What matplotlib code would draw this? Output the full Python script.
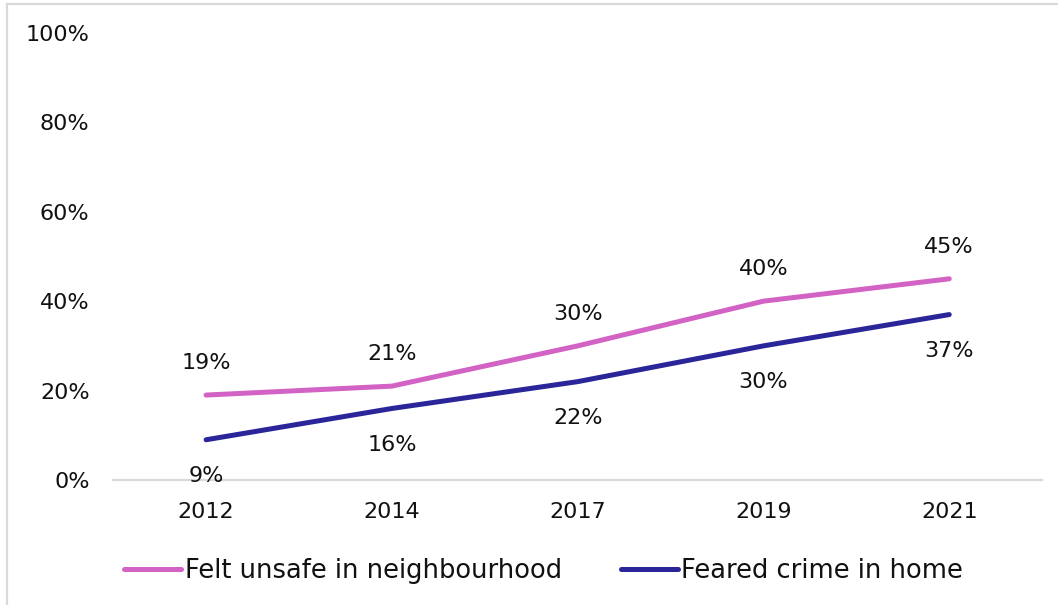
import matplotlib.pyplot as plt
from matplotlib.lines import Line2D

years = ["2012", "2014", "2017", "2019", "2021"]
unsafe = [19, 21, 30, 40, 45]
feared = [9, 16, 22, 30, 37]
y_ticks = [0, 20, 40, 60, 80, 100]

pink = "#D263C4"
navy = "#2A2599"
grey = "#D9D9D9"

plt.rcParams["font.family"] = ["DejaVu Sans"]
plt.rcParams["font.size"] = 16

fig = plt.figure(figsize=(10.58, 6.05), dpi=100)
ax = fig.add_axes([0.107, 0.2066, 0.878, 0.739])

x = range(len(years))
ax.plot(x, unsafe, color=pink, lw=3.6, solid_capstyle="round",
        label="Felt unsafe in neighbourhood")
ax.plot(x, feared, color=navy, lw=3.6, solid_capstyle="round",
        label="Feared crime in home")

# labels: pink above the line, navy below
for i, v in enumerate(unsafe):
    ax.annotate(f"{v}%", (i, v), xytext=(0, 23), textcoords="offset points",
                ha="center", va="center", color="#111111")
for i, v in enumerate(feared):
    ax.annotate(f"{v}%", (i, v), xytext=(0, -26), textcoords="offset points",
                ha="center", va="center", color="#111111")

ax.set_xlim(-0.5, len(years) - 0.5)
ax.set_ylim(0, 100)
ax.set_xticks(list(x))
ax.set_xticklabels(years)
ax.set_yticks(y_ticks)
ax.set_yticklabels([f"{t}%" for t in y_ticks])
ax.tick_params(axis="both", length=0, colors="#111111")
ax.tick_params(axis="x", pad=16)
ax.tick_params(axis="y", pad=17)

for s in ["top", "right", "left"]:
    ax.spines[s].set_visible(False)
ax.spines["bottom"].set_color(grey)
ax.spines["bottom"].set_linewidth(1.6)

leg = fig.legend(loc="center", bbox_to_anchor=(0.514, 0.057), ncol=2, frameon=False,
                 handlelength=2.2, handletextpad=0.15, columnspacing=2.3,
                 fontsize=18.5)
for t in leg.get_texts():
    t.set_color("#111111")

# outer frame along top and left edges
fig.add_artist(Line2D([0.0066, 1], [0.993, 0.993], color=grey, lw=1.6,
                      transform=fig.transFigure))
fig.add_artist(Line2D([0.0066, 0.0066], [0, 0.993], color=grey, lw=1.6,
                      transform=fig.transFigure))

fig.savefig("out.png", dpi=100, facecolor="white")
